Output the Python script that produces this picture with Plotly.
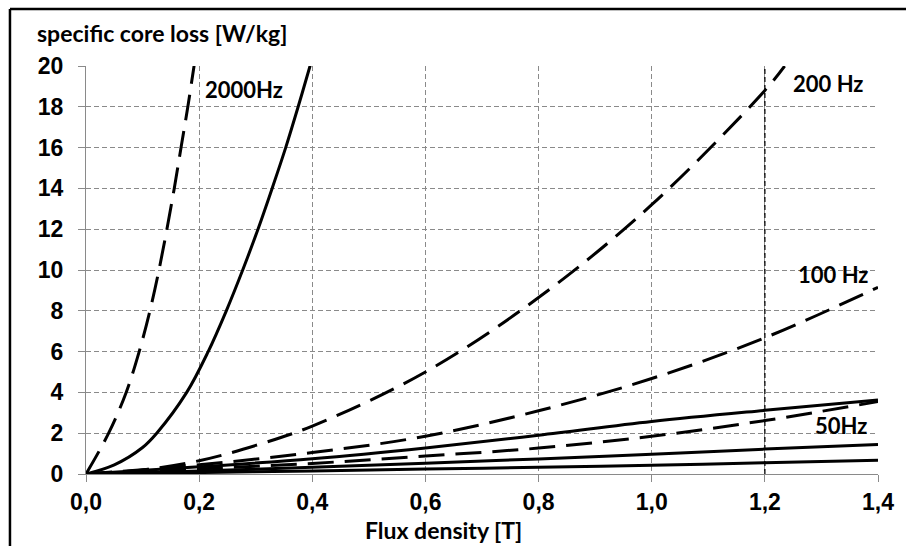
import plotly.graph_objects as go

# ---- data ----
B_2000_dash = [0, 0.040, 0.071, 0.094, 0.113, 0.129, 0.143, 0.156, 0.168, 0.180, 0.191, 0.197]
P_2000_dash = [0, 2, 4, 6, 8, 10, 12, 14, 16, 18, 20, 21]

B_2000_solid = [0, 0.05, 0.1, 0.125, 0.178, 0.216, 0.248, 0.277, 0.304, 0.329, 0.353, 0.375, 0.396, 0.406]
P_2000_solid = [0, 0.45, 1.3, 2, 4, 6, 8, 10, 12, 14, 16, 18, 20, 21]

B_200_dash = [0, 0.1, 0.2, 0.3, 0.4, 0.6, 0.8, 1.0, 1.2, 1.235]
P_200_dash = [0, 0.2, 0.65, 1.4, 2.35, 5.0, 8.65, 13.2, 18.8, 20.0]

B_100_dash = [0, 0.2, 0.4, 0.6, 0.8, 1.0, 1.2, 1.4]
P_100_dash = [0, 0.45, 1.05, 1.85, 3.1, 4.68, 6.68, 9.15]

B_common = [0, 0.2, 0.4, 0.6, 0.8, 1.0, 1.2, 1.4]
P_200_solid = [0, 0.35, 0.75, 1.28, 1.9, 2.57, 3.12, 3.63]
P_50_dash = [0, 0.25, 0.52, 0.88, 1.27, 1.85, 2.62, 3.55]
P_100_solid = [0, 0.15, 0.33, 0.53, 0.74, 0.97, 1.22, 1.44]
P_50_solid = [0, 0.07, 0.15, 0.24, 0.33, 0.43, 0.55, 0.67]

x_ticks = [0, 0.2, 0.4, 0.6, 0.8, 1.0, 1.2, 1.4]
x_ticktext = ["0,0", "0,2", "0,4", "0,6", "0,8", "1,0", "1,2", "1,4"]
y_ticks = [0, 2, 4, 6, 8, 10, 12, 14, 16, 18, 20]

marker_B = 1.2

labels = [("2000Hz", 0.207, 18.85), ("200 Hz", 1.246, 19.14),
          ("100 Hz", 1.255, 9.78), ("50Hz", 1.285, 2.40)]

# ---- figure ----
DASH = "26px,11px"
LW = 3
fig = go.Figure()

series = [
    ("2000 Hz dashed", B_2000_dash, P_2000_dash, DASH),
    ("2000 Hz solid", B_2000_solid, P_2000_solid, "solid"),
    ("200 Hz dashed", B_200_dash, P_200_dash, DASH),
    ("100 Hz dashed", B_100_dash, P_100_dash, DASH),
    ("200 Hz solid", B_common, P_200_solid, "solid"),
    ("50 Hz dashed", B_common, P_50_dash, DASH),
    ("100 Hz solid", B_common, P_100_solid, "solid"),
    ("50 Hz solid", B_common, P_50_solid, "solid"),
]
for name, xs, ys, dash in series:
    fig.add_trace(go.Scatter(x=xs, y=ys, mode="lines", name=name,
                             line=dict(color="black", width=LW, dash=dash, shape="spline", smoothing=1.0),
                             showlegend=False, cliponaxis=True))

fig.add_shape(type="line", xref="x", yref="y", x0=marker_B, x1=marker_B, y0=0, y1=20,
              line=dict(color="black", width=1.3, dash="5px,3px"))

# frame (top and left edges)
fig.add_shape(type="line", xref="paper", yref="paper", x0=-0.096, x1=1.05, y0=1.1397, y1=1.1397,
              line=dict(color="black", width=2.5))
fig.add_shape(type="line", xref="paper", yref="paper", x0=-0.096, x1=-0.096, y0=1.1397, y1=-0.2,
              line=dict(color="black", width=2.5))

ann_font = dict(family="Lato", size=22, color="black")
for txt, x, y in labels:
    fig.add_annotation(x=x, y=y, xref="x", yref="y", text="<b>%s</b>" % txt, showarrow=False,
                       xanchor="left", yanchor="middle", font=ann_font)

fig.add_annotation(x=-0.0644, y=1.081, xref="paper", yref="paper", text="<b>specific core loss [W/kg]</b>",
                   showarrow=False, xanchor="left", yanchor="middle", font=dict(family="Lato", size=23, color="black"))
fig.add_annotation(x=0.451, y=-0.137, xref="paper", yref="paper", text="<b>Flux density [T]</b>",
                   showarrow=False, xanchor="center", yanchor="middle", font=dict(family="Lato", size=23, color="black"))

tick_font = dict(family="Liberation Sans", size=23, color="black")
grid = dict(showgrid=True, gridcolor="#8a8a8a", gridwidth=1, griddash="5px,3px",
            showline=True, linecolor="#8a8a8a", linewidth=1, zeroline=False,
            ticks="outside", ticklen=7, tickcolor="#8a8a8a", tickwidth=1, tickfont=tick_font)

fig.update_xaxes(range=[0, 1.4], tickvals=x_ticks, ticktext=["<b>%s</b>" % t for t in x_ticktext],
                 ticklabelstandoff=0, **grid)
fig.update_yaxes(range=[0, 20], tickvals=y_ticks, ticktext=["<b>%d</b>" % v for v in y_ticks],
                 ticklabelstandoff=10, **grid)

fig.update_layout(width=906, height=546, margin=dict(l=86, r=28, t=66, b=72),
                  plot_bgcolor="white", paper_bgcolor="white", showlegend=False)

fig.write_html("out.html")
